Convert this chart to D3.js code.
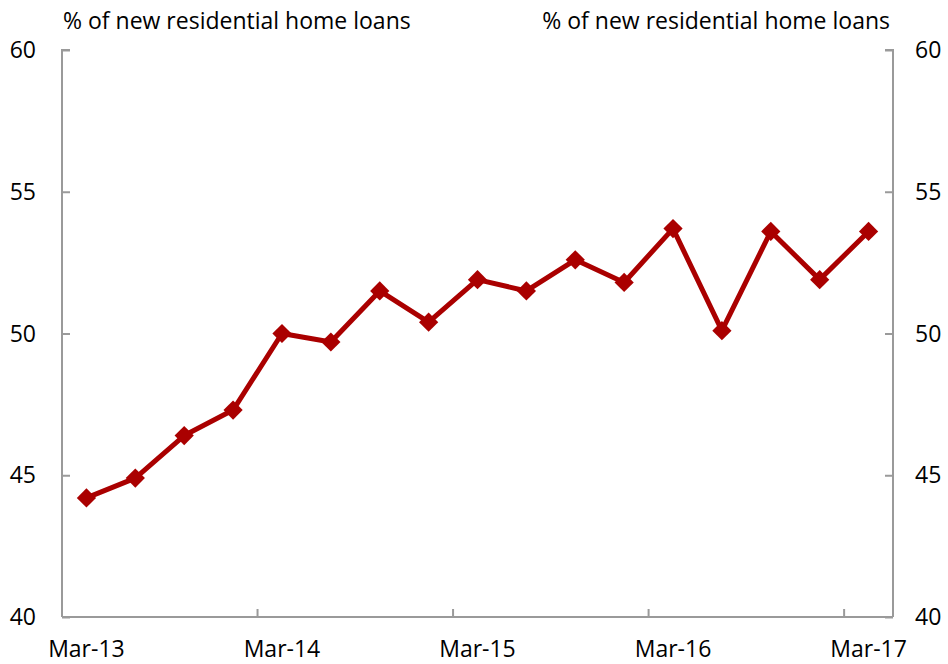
<!DOCTYPE html>
<html><head><meta charset="utf-8">
<script src="https://cdn.jsdelivr.net/npm/d3@7"></script>
<style>body{margin:0;background:#fff}svg{display:block}text{font-family:"Open Sans",sans-serif;fill:#000}</style>
</head><body>
<script>
const categories = ["Mar-13","Jun-13","Sep-13","Dec-13","Mar-14","Jun-14","Sep-14","Dec-14","Mar-15","Jun-15","Sep-15","Dec-15","Mar-16","Jun-16","Sep-16","Dec-16","Mar-17"];
const values = [44.2,44.9,46.4,47.3,50.0,49.7,51.5,50.4,51.9,51.5,52.6,51.8,53.7,50.1,53.6,51.9,53.6];
const yTicks = [40,45,50,55,60];
const xLabels = ["Mar-13","Mar-14","Mar-15","Mar-16","Mar-17"];
const axisTitle = "% of new residential home loans";

const W = 948, H = 664;
const m = {left:62, right:55, top:50, bottom:47};
const svg = d3.select("body").append("svg").attr("width",W).attr("height",H);
const x = d3.scaleBand().domain(categories).range([m.left, W-m.right]);
const y = d3.scaleLinear().domain([40,60]).range([H-m.bottom, m.top]);
const fs = 23;
const gray = "#9a9a9a";

const yl = svg.append("g").attr("transform",`translate(${m.left},0)`)
  .call(d3.axisRight(y).tickValues(yTicks).tickSize(8).tickFormat(""));
const yr = svg.append("g").attr("transform",`translate(${W-m.right},0)`)
  .call(d3.axisLeft(y).tickValues(yTicks).tickSize(8).tickFormat(""));
[yl,yr].forEach(g=>{g.selectAll(".tick line").attr("stroke",gray).attr("stroke-width",2);g.select(".domain").attr("stroke",gray).attr("stroke-width",2);});
yl.select(".domain").attr("d",`M8,${y(60)}H0V${y(40)}`);
yr.select(".domain").attr("d",`M-8,${y(60)}H0V${y(40)}`);

svg.append("g").selectAll("text").data(yTicks).join("text")
  .attr("x",36).attr("y",d=>y(d)+8).attr("text-anchor","end").attr("font-size",fs).text(d=>d);
svg.append("g").selectAll("text").data(yTicks).join("text")
  .attr("x",W-m.right+22).attr("y",d=>y(d)+8).attr("text-anchor","start").attr("font-size",fs).text(d=>d);

const boundaries = categories.filter((c,i)=>i>0 && i%4===0);
const xa = svg.append("g").attr("transform",`translate(0,${y(40)})`)
  .call(d3.axisTop(x).tickValues(boundaries).tickSize(8).tickFormat(""));
xa.selectAll(".tick").attr("transform",d=>`translate(${x(d)},0)`);
xa.select(".domain").attr("stroke",gray).attr("stroke-width",2).attr("d",`M${m.left},0H${W-m.right}`);
xa.selectAll(".tick line").attr("stroke",gray).attr("stroke-width",2);
svg.append("g").selectAll("text").data(xLabels).join("text")
  .attr("x",d=>x(d)+x.bandwidth()/2).attr("y",657).attr("text-anchor","middle").attr("font-size",fs).text(d=>d);

svg.append("text").attr("x",63).attr("y",29).attr("font-size",fs).text(axisTitle);
svg.append("text").attr("x",890).attr("y",29).attr("text-anchor","end").attr("font-size",fs).text(axisTitle);

const cx = (d,i)=>x(categories[i])+x.bandwidth()/2;
const red = "#AA0000";
svg.append("path").datum(values).attr("fill","none").attr("stroke",red).attr("stroke-width",5)
  .attr("stroke-linejoin","round")
  .attr("d",d3.line().x(cx).y(d=>y(d)));
const sym = d3.symbol().type(d3.symbolSquare).size(185);
svg.append("g").selectAll("path").data(values).join("path")
  .attr("fill",red)
  .attr("transform",(d,i)=>`translate(${cx(d,i)},${y(d)}) rotate(45)`)
  .attr("d",sym);
</script>
</body></html>
